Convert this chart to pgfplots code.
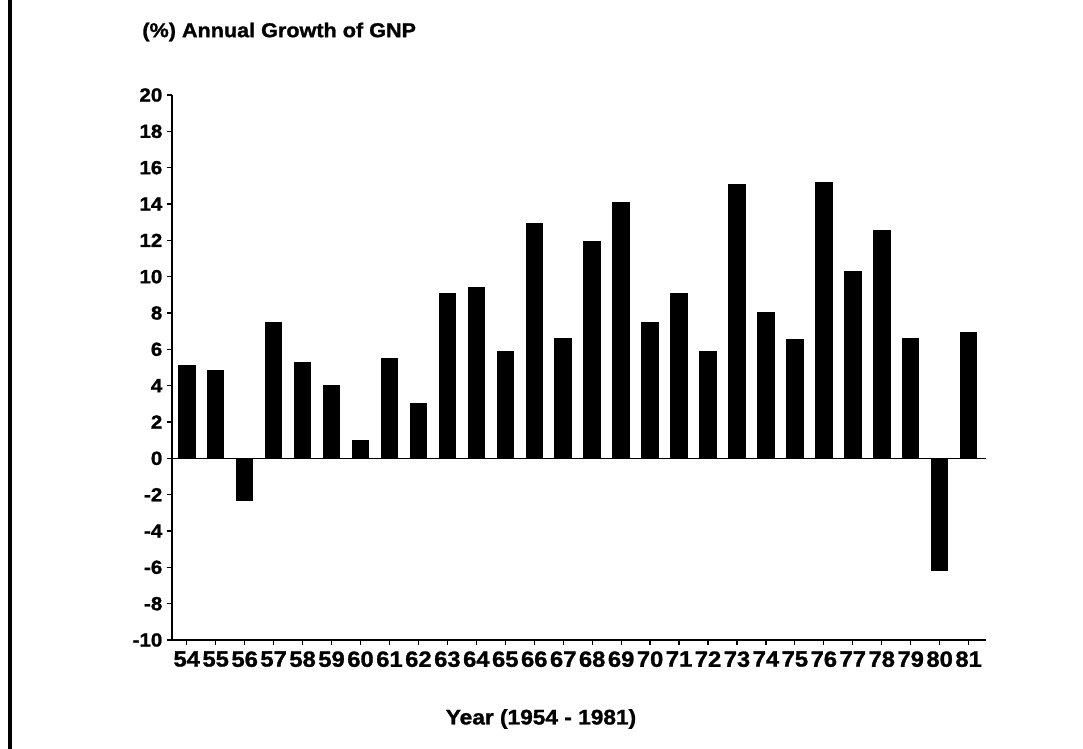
\documentclass[border=0pt]{standalone}
\usepackage{pgfplots}
\pgfplotsset{compat=1.18}
\usepackage{fontspec}
\setmainfont{Liberation Sans}[FakeStretch=1.08, BoldFeatures={FakeBold=1.3}]
\usepackage{pgfplotstable}
\pgfplotstableread{
year val
54 5.1
55 4.85
56 -2.3
57 7.5
58 5.3
59 4.0
60 1.0
61 5.5
62 3.0
63 9.05
64 9.4
65 5.9
66 12.9
67 6.6
68 11.95
69 14.07
70 7.5
71 9.05
72 5.9
73 15.1
74 8.0
75 6.55
76 15.2
77 10.27
78 12.56
79 6.6
80 -6.2
81 6.9
}\gnp
\begin{document}
\begin{tikzpicture}[x=1pt,y=1pt]
\path[use as bounding box] (0,0) rectangle (541.5,374.5);
\draw[line width=2pt] (5,0) -- (5,374.5);
\begin{axis}[
  at={(85.85pt,54.5pt)}, anchor=south west,
  scale only axis, width=407.15pt, height=272.5pt,
  xmin=53.48, xmax=81.6, ymin=-10, ymax=20,
  axis lines*=left,
  axis line style={line width=0.8pt, black},
  ybar, bar width=8.25pt,
  xtick={54,...,81},
  ytick={-10,-8,...,20},
  tick align=outside,
  major tick length=2.5pt,
  tick style={line width=0.6pt, black},
  /pgf/number format/assume math mode=true,
  xticklabel style={font=\bfseries\fontsize{11}{12}\selectfont, inner sep=0pt, yshift=-3pt},
  yticklabel style={font=\bfseries\fontsize{9.5}{11}\selectfont, inner sep=0pt, xshift=-2pt},
  clip=false,
]
\addplot[fill=black, draw=black, line width=0pt] table[x=year, y=val] {\gnp};
\draw[line width=0.8pt] (axis cs:53.48,0) -- (axis cs:81.6,0);
\end{axis}
\node[anchor=west, font=\bfseries\fontsize{10}{11}\selectfont, inner sep=0pt] at (71,358.5) {(\%) Annual Growth of GNP};
\node[font=\bfseries\fontsize{10.5}{12}\selectfont, inner sep=0pt] at (270.5,15) {Year (1954 - 1981)};
\end{tikzpicture}
\end{document}
